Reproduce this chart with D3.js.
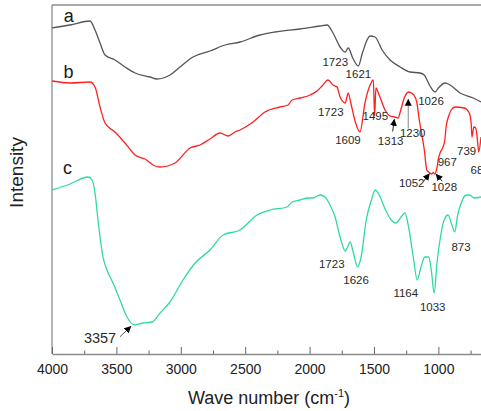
<!DOCTYPE html>
<html>
<head>
<meta charset="utf-8">
<script src="https://cdn.jsdelivr.net/npm/d3@7"></script>
<style>
  html, body { margin: 0; padding: 0; background: #fff; }
  svg { display: block; font-family: "Liberation Sans", Arial, sans-serif; }
</style>
</head>
<body>
<svg id="chart" width="481" height="411"></svg>
<script>
// FTIR spectra (wavenumber in cm-1, intensity in arbitrary units, curves stacked)
const waveA = [4000,3860,3705,3666,3627,3588,3511,3433,3355,3239,3185,3084,3006,2905,2773,2656,2540,2385,2268,2074,1919,1864,1818,1763,1723,1700,1665,1621,1590,1530,1492,1437,1375,1297,1220,1142,1110,1065,1026,1000,948,909,831,730,669];
const intensityA = [3.26,3.29,3.33,3.24,3.11,2.99,2.94,2.87,2.81,2.77,2.75,2.79,2.87,2.97,3.03,3.09,3.12,3.19,3.22,3.25,3.28,3.29,3.21,3.07,3.02,3.06,2.96,2.88,3.01,3.18,3.17,3.04,2.94,2.87,2.82,2.81,2.79,2.68,2.62,2.66,2.71,2.69,2.61,2.56,2.52];

const waveB = [4000,3860,3705,3666,3627,3588,3511,3433,3355,3278,3200,3161,3045,2928,2851,2773,2695,2633,2579,2540,2439,2346,2229,2167,2136,2074,1996,1942,1903,1857,1818,1787,1763,1723,1700,1680,1645,1609,1570,1530,1505,1495,1485,1460,1410,1375,1340,1313,1290,1265,1230,1210,1190,1168,1148,1109,1090,1075,1052,1040,1028,1010,1000,987,967,950,940,920,900,870,800,760,745,739,725,710,695,687,669];
const intensityB = [2.73,2.71,2.72,2.67,2.47,2.31,2.22,2.11,1.99,1.95,1.88,1.87,1.91,2.06,2.09,2.15,2.21,2.18,2.22,2.24,2.32,2.42,2.47,2.49,2.54,2.56,2.59,2.63,2.68,2.74,2.69,2.67,2.57,2.51,2.61,2.51,2.32,2.22,2.51,2.69,2.74,2.38,2.66,2.59,2.43,2.38,2.37,2.36,2.45,2.56,2.62,2.61,2.59,2.52,2.34,2.04,1.84,1.82,1.80,1.815,1.80,1.87,1.95,2.01,2.06,2.14,2.27,2.38,2.44,2.47,2.46,2.41,2.30,2.17,2.27,2.26,2.12,2.02,2.17];

const waveC = [4000,3860,3720,3689,3666,3643,3627,3604,3573,3526,3472,3418,3357,3293,3223,3161,3084,2983,2889,2773,2672,2540,2408,2307,2175,2136,2074,2012,1973,1919,1880,1841,1802,1763,1723,1705,1685,1660,1626,1600,1560,1520,1490,1460,1410,1360,1330,1290,1260,1230,1195,1164,1135,1105,1075,1055,1033,1010,985,955,925,895,873,850,820,785,760,720,669];
const intensityC = [1.64,1.70,1.77,1.74,1.61,1.34,1.17,0.97,0.84,0.71,0.54,0.37,0.29,0.31,0.32,0.41,0.52,0.74,0.91,1.04,1.19,1.24,1.39,1.44,1.47,1.52,1.54,1.56,1.56,1.59,1.57,1.49,1.37,1.17,1.03,1.07,1.12,1.01,0.87,0.97,1.34,1.54,1.64,1.59,1.44,1.33,1.31,1.37,1.41,1.26,0.97,0.74,0.87,0.97,0.97,0.84,0.61,0.92,1.16,1.34,1.39,1.29,1.22,1.39,1.52,1.59,1.59,1.56,1.57];

const seriesNames = ["a", "b", "c"];
const peaksA = [1723, 1621, 1026];
const peaksB = [1723, 1609, 1495, 1313, 1230, 1052, 1028, 967, 739, 687];
const peaksC = [3357, 1723, 1626, 1164, 1033, 873];

const xTicks = [4000, 3500, 3000, 2500, 2000, 1500, 1000];
const xMinorTicks = [3750, 3250, 2750, 2250, 1750, 1250, 750];

// ---- layout ----
const svg = d3.select("#chart");
const plot = { left: 52, right: 481, top: 5, bottom: 354 };
const x = d3.scaleLinear().domain([4000, 669]).range([plot.left, plot.right]);
const y = d3.scaleLinear().domain([0, 3.49]).range([plot.bottom, plot.top]);

const series = [
  { name: seriesNames[0], wave: waveA, val: intensityA, color: "#555555", peaks: peaksA },
  { name: seriesNames[1], wave: waveB, val: intensityB, color: "#ff1f1f", peaks: peaksB },
  { name: seriesNames[2], wave: waveC, val: intensityC, color: "#2edb9c", peaks: peaksC }
];

// label offsets from the peak point, [dx, dy] to the text centre
const labelOffset = {
  "a1723": [-10, 10], "a1621": [0, 7.5], "a1026": [-4, 8.5],
  "b1723": [-14.5, 8.7], "b1609": [-12, 8], "b1495": [0.7, 0], "b1313": [-7.4, 22.8],
  "b1230": [4, 40.5], "b1052": [-20, 8.7], "b1028": [9.5, 12.7], "b967": [4.7, 13.7],
  "b739": [-5.3, 13.8], "b687": [1.5, 17.5],
  "c3357": [-34.8, 13.3], "c1723": [-13.5, 13.3], "c1626": [-1.7, 13], "c1164": [-11.5, 12.7],
  "c1033": [-1.4, 13.7], "c873": [6.3, 15.3]
};
// arrows from a label toward its peak: [tailDx, tailDy, tipDx, tipDy, shaftColour]
const labelArrow = {
  "b1313": [-5.4, 13.5, -3.8, 1.5, "#222"],
  "b1230": [-0.5, 36.5, -0.5, 7.5, "#8a8a8a"],
  "b1052": [-8, 7.2, -2.4, -0.2, "#222"],
  "b1028": [7.4, 7.2, 1.4, 0.2, "#222"],
  "c3357": [-14.8, 11.7, -4, 1.6, "#555"]
};

// arrowhead marker
svg.append("defs").append("marker")
  .attr("id", "head")
  .attr("viewBox", "0 0 10 10")
  .attr("refX", 9).attr("refY", 5)
  .attr("markerWidth", 7).attr("markerHeight", 7)
  .attr("markerUnits", "userSpaceOnUse")
  .attr("orient", "auto")
  .append("path").attr("d", "M0,0 L10,5 L0,10 Z").attr("fill", "#000");

svg.select("defs").append("clipPath").attr("id", "plotClip")
  .append("rect").attr("x", plot.left).attr("y", plot.top)
  .attr("width", plot.right - plot.left).attr("height", plot.bottom - plot.top);

// frame: top and left lines
const frameColor = "#8c8c8c";
svg.append("line").attr("x1", plot.left).attr("x2", plot.right).attr("y1", plot.top).attr("y2", plot.top)
  .attr("stroke", frameColor).attr("stroke-width", 1.3);
svg.append("line").attr("x1", plot.left).attr("x2", plot.left).attr("y1", plot.top).attr("y2", plot.bottom)
  .attr("stroke", frameColor).attr("stroke-width", 1.3);

// bottom axis with inward major and minor ticks
const axisMajor = d3.axisBottom(x).tickValues(xTicks).tickSize(-7).tickSizeOuter(0).tickPadding(10)
  .tickFormat(d3.format("d"));
const gx = svg.append("g").attr("transform", `translate(0,${plot.bottom})`).call(axisMajor);
gx.select(".domain").attr("stroke", frameColor).attr("stroke-width", 1.3);
gx.selectAll(".tick line").attr("stroke", "#666").attr("stroke-width", 1);
gx.selectAll(".tick text").attr("font-size", 14).attr("fill", "#222")
  .attr("font-family", "'Liberation Sans', Arial, sans-serif");

const axisMinor = d3.axisBottom(x).tickValues(xMinorTicks).tickSize(-3.5).tickSizeOuter(0).tickFormat("");
const gm = svg.append("g").attr("transform", `translate(0,${plot.bottom})`).call(axisMinor);
gm.select(".domain").remove();
gm.selectAll(".tick line").attr("stroke", "#666").attr("stroke-width", 1);

// axis titles
const title = svg.append("text").attr("x", 269).attr("y", 404).attr("text-anchor", "middle")
  .attr("font-size", 18).attr("fill", "#222");
title.append("tspan").text("Wave number (cm");
title.append("tspan").text("-1").attr("font-size", 11).attr("dy", -7);
title.append("tspan").text(")").attr("dy", 7);

svg.append("text").attr("transform", "translate(22.7,172.5) rotate(-90)")
  .attr("text-anchor", "middle").attr("font-size", 19).attr("fill", "#222").text("Intensity");

// spectra
const line = d3.line().x(d => x(d[0])).y(d => y(d[1])).curve(d3.curveMonotoneX);
const curves = svg.append("g").attr("clip-path", "url(#plotClip)");
series.forEach(s => {
  const pts = s.wave.map((w, i) => [w, s.val[i]]);
  curves.append("path").datum(pts)
    .attr("d", line)
    .attr("fill", "none").attr("stroke", s.color).attr("stroke-width", 1.3)
    .attr("stroke-linejoin", "round");
});

// series letters
const letterPos = { a: [68.8, 21.7], b: [68.5, 78.3], c: [67.5, 174] };
series.forEach(s => {
  svg.append("text").attr("x", letterPos[s.name][0]).attr("y", letterPos[s.name][1])
    .attr("text-anchor", "middle").attr("font-size", 18).attr("fill", "#1a1a1a").text(s.name);
});

// peak labels and arrows
const labels = svg.append("g");
series.forEach(s => {
  s.peaks.forEach(p => {
    const i = s.wave.indexOf(p);
    const px = x(p), py = y(s.val[i]);
    const key = s.name + p;
    const off = labelOffset[key] || [0, 10];
    const big = p === 3357;
    labels.append("text")
      .attr("x", px + off[0]).attr("y", py + off[1]).attr("dy", "0.35em")
      .attr("text-anchor", "middle")
      .attr("font-size", big ? 14.5 : 11.5).attr("fill", "#2a2a2a")
      .text(String(p));
    const a = labelArrow[key];
    if (a) {
      labels.append("line")
        .attr("x1", px + a[0]).attr("y1", py + a[1])
        .attr("x2", px + a[2]).attr("y2", py + a[3])
        .attr("stroke", a[4]).attr("stroke-width", 1)
        .attr("marker-end", "url(#head)");
    }
  });
});
</script>
</body>
</html>
